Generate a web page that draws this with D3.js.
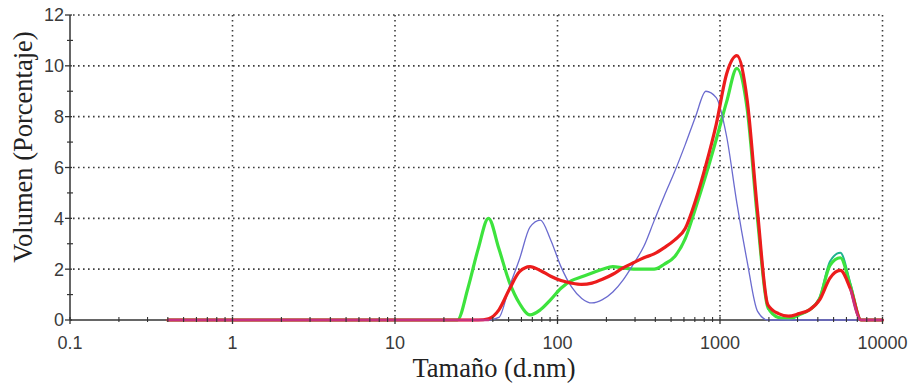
<!DOCTYPE html>
<html>
<head>
<meta charset="utf-8">
<script src="https://cdn.jsdelivr.net/npm/d3@7"></script>
<style>
  html, body { margin:0; padding:0; background:#fff; }
  svg { display:block; }
  .tick-label { font-family:"Liberation Sans", Arial, sans-serif; font-size:18px; fill:#3a3a3a; }
  .title { font-family:"Liberation Serif", "Times New Roman", serif; font-size:26.5px; fill:#222; }
  .grid line { stroke:#3c3c3c; stroke-width:1.6; stroke-dasharray:1.6 3.4; }
  .series { fill:none; stroke-linejoin:round; stroke-linecap:round; }
</style>
</head>
<body>
<svg id="chart" width="911" height="383"></svg>
<script>
// size classes (d.nm), log spaced like the instrument bins
const sizes = [0.4, 10, 18.0, 20.9, 24.2, 28.1, 32.5, 37.6, 43.6, 50.5, 58.4, 67.7, 78.4, 90.8,
  105, 122, 141, 163, 189, 219, 253, 293, 340, 393, 455, 527, 611, 707, 819, 948,
  1100, 1270, 1470, 1700, 1970, 2290, 2640, 3060, 3550, 4110, 4750, 5500, 6370, 7380, 8550, 10000];

// volume % per size class
const greenVals = [0, 0, 0, 0, 0, 1.25, 2.8, 4.0, 2.8, 1.5, 0.65, 0.2, 0.4, 0.8,
  1.25, 1.55, 1.7, 1.85, 2.0, 2.1, 2.05, 2.0, 2.0, 2.0, 2.2, 2.5, 3.2, 4.4, 5.7, 7.1,
  8.6, 9.9, 8.3, 4.0, 0.5, 0.1, 0.05, 0.2, 0.4, 0.85, 2.15, 2.45, 1.3, 0, 0, 0];

const tealVals = [null, null, null, null, null, null, null, null, null, null, null, null, null, null,
  null, null, null, null, null, null, null, null, null, null, null, null, null, null, null, null,
  null, null, null, null, 0.45, 0.1, 0.05, 0.2, 0.4, 0.9, 2.3, 2.65, 1.4, 0, 0, 0];

const blueVals = [0, 0, 0, 0, 0, 0, 0, 0, 0.1, 1.3, 2.4, 3.65, 3.93, 3.15,
  2.1, 1.3, 0.85, 0.67, 0.8, 1.1, 1.57, 2.2, 2.9, 3.9, 4.9, 5.85, 6.9, 8.0, 9.0, 8.75,
  7.2, 4.6, 2.3, 0.35, 0, 0, 0, 0, 0, 0, 0, 0, 0, 0, 0, 0];

const redVals = [0, 0, 0, 0, 0, 0, 0, 0.05, 0.4, 1.2, 1.9, 2.1, 1.95, 1.72,
  1.55, 1.45, 1.4, 1.45, 1.6, 1.8, 2.05, 2.25, 2.45, 2.6, 2.85, 3.15, 3.6, 4.7, 6.1, 7.7,
  9.7, 10.4, 8.65, 4.3, 0.6, 0.25, 0.15, 0.25, 0.4, 0.8, 1.65, 1.95, 1.2, 0, 0, 0];

const magentaVals = [0, 0, 0, 0, 0, 0, 0, 0, null, null, null, null, null, null,
  null, null, null, null, null, null, null, null, null, null, null, null, null, null, null, null,
  null, null, null, null, null, null, null, null, null, null, null, null, 1.2, 0, 0, 0];

const series = [
  { name:'teal',    values:tealVals,    color:'#1fb38e', width:2 },
  { name:'green',   values:greenVals,   color:'#3de33d', width:3.2 },
  { name:'blue',    values:blueVals,    color:'#6b6bcf', width:1.3 },
  { name:'red',     values:redVals,     color:'#ec1c1c', width:3.2 },
  { name:'magenta', values:magentaVals, color:'#c8307f', width:2.4 }
];

const xTicks = [0.1, 1, 10, 100, 1000, 10000];
const yTicks = [0, 2, 4, 6, 8, 10, 12];

// --- layout ---
const svg = d3.select('#chart');
const m = { left:70, right:882.5, top:15, bottom:320 };

const x = d3.scaleLog().domain([0.1, 10000]).range([m.left, m.right]);
const y = d3.scaleLinear().domain([0, 12]).range([m.bottom, m.top]);

// --- grid (dotted) ---
const grid = svg.append('g').attr('class','grid');
grid.selectAll('line.h')
  .data(yTicks.filter(v => v > 0))
  .join('line')
  .attr('x1', m.left + 3).attr('x2', m.right)
  .attr('y1', d => y(d)).attr('y2', d => y(d));
grid.selectAll('line.v')
  .data(xTicks.filter(v => v > 0.1))
  .join('line')
  .attr('y1', m.top).attr('y2', m.bottom)
  .attr('x1', d => x(d)).attr('x2', d => x(d));

// --- series ---
const line = d3.line()
  .defined(d => d[1] != null)
  .x(d => x(d[0]))
  .y(d => y(d[1]))
  .curve(d3.curveMonotoneX);

// x axis line drawn under the curves
svg.append('line')
  .attr('x1', m.left).attr('x2', m.right)
  .attr('y1', m.bottom).attr('y2', m.bottom)
  .attr('stroke', '#333').attr('stroke-width', 1.5);

svg.append('g').selectAll('path')
  .data(series)
  .join('path')
  .attr('class','series')
  .attr('stroke', d => d.color)
  .attr('stroke-width', d => d.width)
  .attr('d', d => line(sizes.map((s, i) => [s, d.values[i]])));

// --- axes ---
const axisG = svg.append('g').attr('stroke', '#333');
axisG.append('line')
  .attr('x1', m.left).attr('x2', m.left)
  .attr('y1', m.top).attr('y2', m.bottom)
  .attr('stroke-width', 1.5);

// y ticks: majors at even values, minors at odd
const yMinor = d3.range(1, 12, 2);
axisG.selectAll('line.ymaj').data(yTicks).join('line')
  .attr('x1', m.left - 5).attr('x2', m.left + 2)
  .attr('y1', d => y(d)).attr('y2', d => y(d)).attr('stroke-width', 1.3);
axisG.selectAll('line.ymin').data(yMinor).join('line')
  .attr('x1', m.left - 3).attr('x2', m.left + 3)
  .attr('y1', d => y(d)).attr('y2', d => y(d)).attr('stroke-width', 1.2);

// x ticks: decades plus 2..9 minors
const xMinor = [];
[0.1, 1, 10, 100, 1000].forEach(dec => { for (let k = 2; k <= 9; k++) xMinor.push(dec * k); });
axisG.selectAll('line.xmaj').data(xTicks).join('line')
  .attr('x1', d => x(d)).attr('x2', d => x(d))
  .attr('y1', m.bottom - 3).attr('y2', m.bottom + 4).attr('stroke-width', 1.3);
axisG.selectAll('line.xmin').data(xMinor).join('line')
  .attr('x1', d => x(d)).attr('x2', d => x(d))
  .attr('y1', m.bottom - 3).attr('y2', m.bottom + 2).attr('stroke-width', 1.1);

// tick labels
svg.append('g').selectAll('text').data(yTicks).join('text')
  .attr('class','tick-label')
  .attr('x', m.left - 6).attr('y', d => y(d)).attr('dy', '0.36em')
  .attr('text-anchor','end')
  .text(d => d);

svg.append('g').selectAll('text').data(xTicks).join('text')
  .attr('class','tick-label')
  .attr('x', d => x(d)).attr('y', 349)
  .attr('text-anchor','middle')
  .text(d => d3.format('~g')(d));

// axis titles
svg.append('text')
  .attr('class','title')
  .attr('x', 494).attr('y', 377)
  .attr('text-anchor','middle')
  .text('Tamaño (d.nm)');

svg.append('text')
  .attr('class','title')
  .attr('transform', 'translate(32,147) rotate(-90)')
  .attr('text-anchor','middle')
  .text('Volumen (Porcentaje)');
</script>
</body>
</html>
